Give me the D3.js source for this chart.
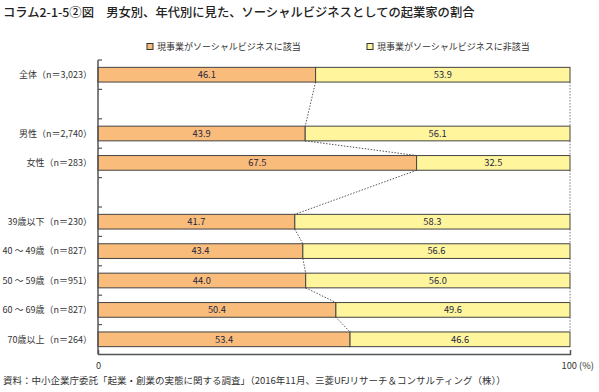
<!DOCTYPE html>
<html><head><meta charset="utf-8">
<script src="https://cdn.jsdelivr.net/npm/d3@7"></script>
<style>
body{margin:0;background:#fff;}
svg{display:block;font-family:"Noto Sans CJK JP","Noto Sans",sans-serif;}
</style></head><body>
<svg id="c" width="599" height="392"></svg>
<script>
const slots = ["全体（n＝3,023）","_gap1","男性（n＝2,740）","女性（n＝283）","_gap2","39歳以下（n＝230）","40 ～ 49歳（n＝827）","50 ～ 59歳（n＝951）","60 ～ 69歳（n＝827）","70歳以上（n＝264）"];
const categories = ["全体（n＝3,023）","男性（n＝2,740）","女性（n＝283）","39歳以下（n＝230）","40 ～ 49歳（n＝827）","50 ～ 59歳（n＝951）","60 ～ 69歳（n＝827）","70歳以上（n＝264）"];
const yesValues = [46.1, 43.9, 67.5, 41.7, 43.4, 44.0, 50.4, 53.4];
const noValues  = [53.9, 56.1, 32.5, 58.3, 56.6, 56.0, 49.6, 46.6];
const seriesNames = ["現事業がソーシャルビジネスに該当","現事業がソーシャルビジネスに非該当"];
const xTicks = [0, 100];
const title = "コラム2-1-5②図　男女別、年代別に見た、ソーシャルビジネスとしての起業家の割合";
const source = "資料：中小企業庁委託「起業・創業の実態に関する調査」（2016年11月、三菱UFJリサーチ＆コンサルティング（株））";

const colors = ["#F9BC7A", "#FFF59D"];
const svg = d3.select("#c");
const x = d3.scaleLinear().domain([0,100]).range([98,570]);
const y = d3.scaleBand().domain(slots).range([60,354]).paddingInner(0.5).paddingOuter(0.25);

svg.append("text").attr("x",3).attr("y",17).attr("font-size",12.3).attr("font-weight",500).attr("fill","#222").text(title);

// legend
const lg = [{x:147,t:seriesNames[0],c:colors[0]},{x:367,t:seriesNames[1],c:colors[1]}];
lg.forEach(d=>{
  svg.append("rect").attr("x",d.x).attr("y",43.5).attr("width",6).attr("height",6).attr("fill",d.c).attr("stroke","#333").attr("stroke-width",1);
  svg.append("text").attr("x",d.x+10).attr("y",50).attr("font-size",9).attr("fill","#333").text(d.t);
});

const rows = categories.map((c,i)=>({c, a:yesValues[i], b:noValues[i]}));

// dotted connectors
for(let i=0;i<rows.length-1;i++){
  const r0=rows[i], r1=rows[i+1];
  svg.append("line").attr("x1",x(r0.a)).attr("y1",y(r0.c)+y.bandwidth()).attr("x2",x(r1.a)).attr("y2",y(r1.c))
    .attr("stroke","#555").attr("stroke-width",1).attr("stroke-dasharray","1.5,1.5");
  svg.append("line").attr("x1",x(100)).attr("y1",y(r0.c)+y.bandwidth()).attr("x2",x(100)).attr("y2",y(r1.c))
    .attr("stroke","#777").attr("stroke-width",1).attr("stroke-dasharray","1.5,1.5");
}

const g = svg.append("g");
rows.forEach(r=>{
  g.append("rect").attr("x",x(0)).attr("y",y(r.c)).attr("width",x(r.a)-x(0)).attr("height",y.bandwidth())
    .attr("fill",colors[0]).attr("stroke","#444").attr("stroke-width",1);
  g.append("rect").attr("x",x(r.a)).attr("y",y(r.c)).attr("width",x(100)-x(r.a)).attr("height",y.bandwidth())
    .attr("fill",colors[1]).attr("stroke","#444").attr("stroke-width",1);
  g.append("text").attr("x",(x(0)+x(r.a))/2).attr("y",y(r.c)+y.bandwidth()/2+3.3).attr("text-anchor","middle")
    .attr("font-size",9.3).attr("fill","#1d2540").text(r.a.toFixed(1));
  g.append("text").attr("x",(x(r.a)+x(100))/2).attr("y",y(r.c)+y.bandwidth()/2+3.3).attr("text-anchor","middle")
    .attr("font-size",9.3).attr("fill","#1d2540").text(r.b.toFixed(1));
  svg.append("text").attr("x",92).attr("y",y(r.c)+y.bandwidth()/2+3.3).attr("text-anchor","end")
    .attr("font-size",9).attr("fill","#333").text(r.c);
});

// y axis with ticks at slot boundaries
const yAxisG = svg.append("g");
yAxisG.append("line").attr("x1",98).attr("x2",98).attr("y1",60).attr("y2",354).attr("stroke","#555").attr("stroke-width",1.5);
slots.forEach((s,i)=>{
  const yy = y.range()[0] + i*y.step();
  yAxisG.append("line").attr("x1",98).attr("x2",102).attr("y1",yy).attr("y2",yy).attr("stroke","#555").attr("stroke-width",1.2);
});
// x axis
const xa = svg.append("g").attr("transform","translate(0,354)")
  .call(d3.axisBottom(x).tickValues(xTicks).tickSize(-4).tickFormat(d=> d===100 ? "100 (%)" : d));
xa.select(".domain").attr("stroke","#555").attr("stroke-width",1.5);
xa.selectAll(".tick line").attr("stroke","#555");
xa.selectAll("text").attr("font-size",9.3).attr("fill","#333").attr("dy","1.3em").attr("font-family","Noto Sans CJK JP");
xa.selectAll(".tick").filter(d=>d===100).select("text").attr("text-anchor","start").attr("x",-9);

svg.append("text").attr("x",3).attr("y",384).attr("font-size",9.5).attr("fill","#333").text(source);
</script></body></html>
